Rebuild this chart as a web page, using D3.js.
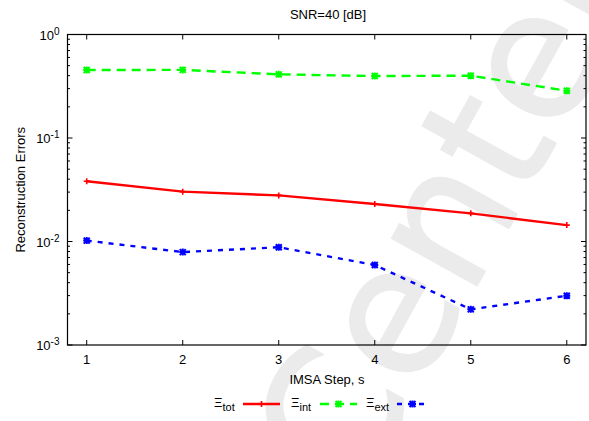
<!DOCTYPE html>
<html>
<head>
<meta charset="utf-8">
<script src="https://cdn.jsdelivr.net/npm/d3@7"></script>
<style>
  html, body { margin: 0; padding: 0; background: #fff; }
  svg { display: block; font-family: "Liberation Sans", Arial, sans-serif; }
</style>
</head>
<body>
<svg id="chart" width="589" height="421"></svg>
<script>
// IMSA steps and reconstruction errors per error type
const steps = [1, 2, 3, 4, 5, 6];
const errTot = [0.0382, 0.0303, 0.0279, 0.0230, 0.0187, 0.0144];
const errInt = [0.454, 0.455, 0.412, 0.397, 0.400, 0.286];
const errExt = [0.0102, 0.0079, 0.0088, 0.00593, 0.00221, 0.00299];
const yExponents = [0, -1, -2, -3];
const titleText = "SNR=40 [dB]";
const xLabel = "IMSA Step, s";
const yLabel = "Reconstruction Errors";

const series = [
  { name: "Ξ", sub: "tot", values: errTot, color: "#ff0000", dash: null, marker: "plus" },
  { name: "Ξ", sub: "int", values: errInt, color: "#00ff00", dash: "9,6", marker: "star" },
  { name: "Ξ", sub: "ext", values: errExt, color: "#0000ff", dash: "5,6", marker: "star" }
];

const svg = d3.select("#chart");
const W = 589, H = 421;
const m = { left: 67.5, right: 3, top: 34.5, bottom: 76 };
const pw = W - m.left - m.right, ph = H - m.top - m.bottom;

// faint background lettering
svg.append("text")
  .attr("transform", "translate(356,504) rotate(-61)")
  .attr("font-size", 178)
  .attr("fill", "#ebebeb")
  .attr("stroke", "#ebebeb")
  .attr("stroke-width", 2)
  .attr("stroke-linejoin", "round")
  .attr("font-family", "'DejaVu Sans', sans-serif")
  .text("Center");

const x = d3.scaleLinear().domain([0.8, 6.2]).range([m.left, m.left + pw]);
const y = d3.scaleLog().domain([1e-3, 1]).range([m.top + ph, m.top]);

const g = svg.append("g");

// frame
g.append("rect")
  .attr("x", m.left).attr("y", m.top).attr("width", pw).attr("height", ph)
  .attr("fill", "none").attr("stroke", "#000").attr("stroke-width", 1.2);

// x ticks (inward, top and bottom)
steps.forEach(s => {
  const px = x(s);
  g.append("line").attr("x1", px).attr("x2", px)
    .attr("y1", m.top + ph).attr("y2", m.top + ph - 5).attr("stroke", "#000");
  g.append("line").attr("x1", px).attr("x2", px)
    .attr("y1", m.top).attr("y2", m.top + 5).attr("stroke", "#000");
  g.append("text").attr("x", px).attr("y", m.top + ph + 19)
    .attr("text-anchor", "middle").attr("font-size", 13).text(s);
});

// y ticks: major with labels, minor on each decade
const yMin = d3.min(yExponents), yMax = d3.max(yExponents);
for (let e = yMin; e <= yMax; e++) {
  const base = Math.pow(10, e);
  const py = y(base);
  [[m.left, 1], [m.left + pw, -1]].forEach(([ax, dir]) => {
    g.append("line").attr("x1", ax).attr("x2", ax + dir * 5)
      .attr("y1", py).attr("y2", py).attr("stroke", "#000");
  });
  if (e < yMax) {
    for (let k = 2; k <= 9; k++) {
      const pm = y(base * k);
      [[m.left, 1], [m.left + pw, -1]].forEach(([ax, dir]) => {
        g.append("line").attr("x1", ax).attr("x2", ax + dir * 2.5)
          .attr("y1", pm).attr("y2", pm).attr("stroke", "#000");
      });
    }
  }
}
yExponents.forEach(e => {
  const t = g.append("text").attr("x", m.left - 8).attr("y", y(Math.pow(10, e)) + 5)
    .attr("text-anchor", "end").attr("font-size", 13);
  t.append("tspan").text("10");
  t.append("tspan").attr("font-size", 10).attr("dy", -5).text(e);
});

// titles
svg.append("text").attr("x", 328).attr("y", 19).attr("text-anchor", "middle")
  .attr("font-size", 13).text(titleText);
svg.append("text").attr("x", 327).attr("y", 384).attr("text-anchor", "middle")
  .attr("font-size", 13).text(xLabel);
svg.append("text").attr("transform", `translate(25,${m.top + ph / 2}) rotate(-90)`)
  .attr("text-anchor", "middle").attr("font-size", 13).text(yLabel);

function drawMarker(sel, px, py, color, kind) {
  if (kind === "plus") {
    sel.append("path").attr("d", `M${px - 3},${py}H${px + 3}M${px},${py - 3}V${py + 3}`)
      .attr("stroke", color).attr("stroke-width", 1.6).attr("fill", "none");
  } else {
    sel.append("path")
      .attr("d", `M${px - 3.5},${py}H${px + 3.5}M${px},${py - 3.5}V${py + 3.5}` +
                 `M${px - 3},${py - 3}L${px + 3},${py + 3}M${px - 3},${py + 3}L${px + 3},${py - 3}`)
      .attr("stroke", color).attr("stroke-width", 2).attr("fill", "none");
  }
}

const line = d3.line().x(d => x(d[0])).y(d => y(d[1]));
series.forEach(s => {
  const pts = steps.map((st, i) => [st, s.values[i]]);
  g.append("path").attr("d", line(pts)).attr("fill", "none")
    .attr("stroke", s.color).attr("stroke-width", 2.4)
    .attr("stroke-dasharray", s.dash);
  pts.forEach(p => drawMarker(g, x(p[0]), y(p[1]), s.color, s.marker));
});

// legend
const legendPos = [
  { tx: 214, lx0: 243, lx1: 280 },
  { tx: 291, lx0: 320, lx1: 357 },
  { tx: 366, lx0: 397, lx1: 428 }
];
const ly = 404;
series.forEach((s, i) => {
  const p = legendPos[i];
  const t = svg.append("text").attr("x", p.tx).attr("y", ly + 3).attr("font-size", 13);
  t.append("tspan").text(s.name);
  t.append("tspan").attr("font-size", 11).attr("dy", 4).text(s.sub);
  svg.append("line").attr("x1", p.lx0).attr("x2", p.lx1).attr("y1", ly).attr("y2", ly)
    .attr("stroke", s.color).attr("stroke-width", 2.4).attr("stroke-dasharray", s.dash);
  drawMarker(svg, (p.lx0 + p.lx1) / 2, ly, s.color, s.marker);
});
</script>
</body>
</html>
